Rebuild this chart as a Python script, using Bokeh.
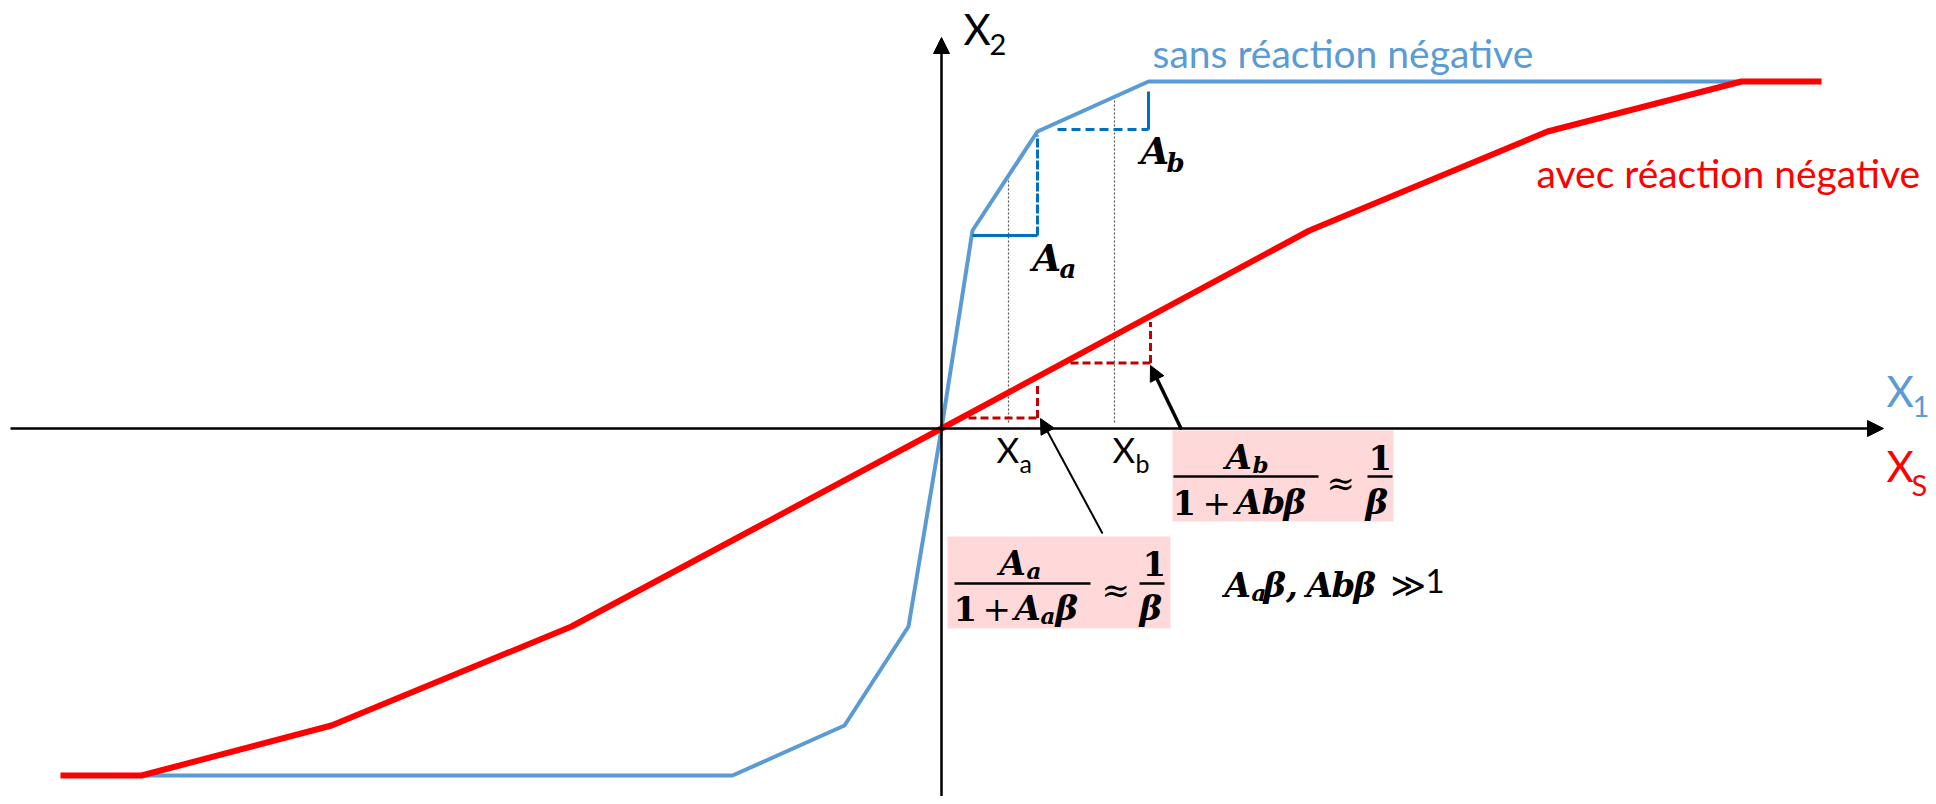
import numpy as np
from bokeh.plotting import figure
from bokeh.models import Range1d, Label, Arrow, NormalHead, BoxAnnotation
from bokeh.embed import file_html
from bokeh.resources import INLINE

# ---- data (transfer characteristics, arbitrary units) ----
x_sans = [-803, -209, -97, -33, 0, 31, 96, 207, 800]
y_sans = [-347, -347, -297, -198, 0, 198, 297, 347, 347]
x_avec = [-881, -800, -610, -370, 0, 368, 606, 800, 880]
y_avec = [-347, -347, -297, -198, 0, 198, 297, 347, 347]
x_marks = [67, 173]            # x_a, x_b
blue_steps = [[31, 96], [96, 207]]
red_steps = [[27, 96], [129, 209]]

BLUE = "#5B9BD5"
DBLUE = "#0070C0"
RED = "#FF0000"
DRED = "#C00000"
PINK = "#FFD9D9"

p = figure(width=1928, height=796, x_range=Range1d(-941, 987), y_range=Range1d(-368, 428),
           output_backend="svg", toolbar_location=None,
           x_axis_location=None, y_axis_location=None, min_border=0)
p.grid.visible = False
p.outline_line_color = None
p.background_fill_color = "white"

OX, OY = 941, 428  # layout helper: reference pixel -> plot units


def bx(xr):
    return xr - OX


def by(yr):
    return OY - yr


# pink boxes (under axes)
p.add_layout(BoxAnnotation(left=bx(1172), right=bx(1393), top=by(430), bottom=by(521),
                           fill_color=PINK, fill_alpha=1, line_color=None, level="underlay"))
p.add_layout(BoxAnnotation(left=bx(947), right=bx(1170), top=by(536), bottom=by(628),
                           fill_color=PINK, fill_alpha=1, line_color=None, level="underlay"))

# axes with arrows
p.add_layout(Arrow(end=NormalHead(size=16, fill_color="black", line_color="black"),
                   x_start=bx(10), y_start=0, x_end=bx(1883), y_end=0,
                   line_width=2.5, line_color="black"))
p.add_layout(Arrow(end=NormalHead(size=16, fill_color="black", line_color="black"),
                   x_start=0, y_start=by(810), x_end=0, y_end=by(37),
                   line_width=2.5, line_color="black"))

# dotted verticals at x_a, x_b up to the open-loop curve
top_marks = [float(np.interp(x, x_sans, y_sans)) for x in x_marks]
p.segment(x0=x_marks, y0=[6, 6], x1=x_marks, y1=top_marks,
          line_color="#555555", line_width=1.2, line_dash="2 2")

# curves
p.line(x_sans, y_sans, line_color=BLUE, line_width=4)
p.line(x_avec, y_avec, line_color=RED, line_width=6)

# blue slope steps
(a0, a1), (b0, b1) = blue_steps
ya0, ya1 = np.interp([a0, a1], x_sans, y_sans)
yb0, yb1 = np.interp([b0, b1], x_sans, y_sans)
p.segment(x0=[a0], y0=[ya0 - 5], x1=[a1], y1=[ya0 - 5], line_color=DBLUE, line_width=3)
p.segment(x0=[a1], y0=[ya0 - 5], x1=[a1], y1=[ya1 - 4], line_color=DBLUE, line_width=3, line_dash="9 2")
p.segment(x0=[b0 + 20], y0=[yb0 + 2], x1=[b1], y1=[yb0 + 2], line_color=DBLUE, line_width=3, line_dash="9 5")
p.segment(x0=[b1], y0=[yb0 + 2], x1=[b1], y1=[yb1 - 10], line_color=DBLUE, line_width=3)

# red slope steps
for s0, s1 in red_steps:
    r0, r1 = np.interp([s0, s1], x_avec, y_avec)
    p.segment(x0=[s0], y0=[r0 - 4], x1=[s1], y1=[r0 - 4], line_color=DRED, line_width=3, line_dash="8 4")
    p.segment(x0=[s1], y0=[r0 - 4], x1=[s1], y1=[r1 - 6], line_color=DRED, line_width=3, line_dash="8 4")

# pointer arrows
p.add_layout(Arrow(end=NormalHead(size=15, fill_color="black", line_color="black"),
                   x_start=bx(1102), y_start=by(533), x_end=bx(1040), y_end=by(418),
                   line_width=2, line_color="black"))
p.add_layout(Arrow(end=NormalHead(size=15, fill_color="black", line_color="black"),
                   x_start=bx(1181), y_start=by(429), x_end=bx(1150), y_end=by(365),
                   line_width=3.5, line_color="black"))

# fraction bars
p.segment(x0=[bx(1173), bx(1367), bx(954), bx(1139)], y0=[by(476), by(476), by(583), by(583)],
          x1=[bx(1318), bx(1392), bx(1090), bx(1164)], y1=[by(476), by(476), by(583), by(583)],
          line_color="black", line_width=2.5)


def L(text, xr, yr, size, font="Lato", style="normal", color="black"):
    k = 0.27 if font == "Lato" else 0.12
    p.add_layout(Label(x=bx(xr), y=by(yr - k * size), text=text, text_font=font,
                       text_font_size=f"{size}px", text_font_style=style, text_color=color,
                       text_baseline="alphabetic", text_align="left"))


SER = "DejaVu Serif"
BI = "bold italic"
FS = 34
SS = 23

# axis labels
L("X", 963, 40, 42)
L("2", 989, 52, 29)
L("X", 1886, 402, 42, color=BLUE)
L("1", 1912, 414, 29, color=BLUE)
L("X", 1886, 477, 42, color=RED)
L("S", 1911, 492, 29, color=RED)
L("X", 996, 458, 35)
L("a", 1019, 469, 25)
L("X", 1112, 458, 35)
L("b", 1135, 469, 25)

# curve labels
L("sans réaction négative", 1152, 63, 39, color=BLUE)
L("avec réaction négative", 1536, 183, 39, color=RED)

# slope labels
L("A", 1032, 262, 37, SER, BI)
L("a", 1059, 272, 26, SER, BI)
L("A", 1140, 155, 37, SER, BI)
L("b", 1166, 166, 26, SER, BI)

# formula b
L("A", 1225, 461, FS, SER, BI)
L("b", 1252, 467, SS, SER, BI)
L("1", 1172, 506, FS, SER, "bold")
L("+", 1202, 506, FS, SER)
L("A", 1235, 506, FS, SER, BI)
L("b", 1261, 506, FS, SER, BI)
L("β", 1283, 506, FS, SER, BI)
L("≈", 1326, 487, FS, SER)
L("1", 1368, 461, FS, SER, "bold")
L("β", 1365, 506, FS, SER, BI)

# formula a
L("A", 999, 567, FS, SER, BI)
L("a", 1026, 573, SS, SER, BI)
L("1", 953, 612, FS, SER, "bold")
L("+", 982, 612, FS, SER)
L("A", 1014, 612, FS, SER, BI)
L("a", 1040, 618, SS, SER, BI)
L("β", 1055, 612, FS, SER, BI)
L("≈", 1101, 594, FS, SER)
L("1", 1142, 567, FS, SER, "bold")
L("β", 1139, 612, FS, SER, BI)

# condition
L("A", 1224, 589, FS, SER, BI)
L("a", 1251, 595, SS, SER, BI)
L("β,", 1263, 589, FS, SER, BI)
L("A", 1306, 589, FS, SER, BI)
L("b", 1331, 589, FS, SER, BI)
L("β", 1353, 589, FS, SER, BI)
L("≫", 1390, 589, FS, "DejaVu Sans")
L("1", 1425, 589, 33)

open("out.html", "w").write(file_html(p, INLINE))
